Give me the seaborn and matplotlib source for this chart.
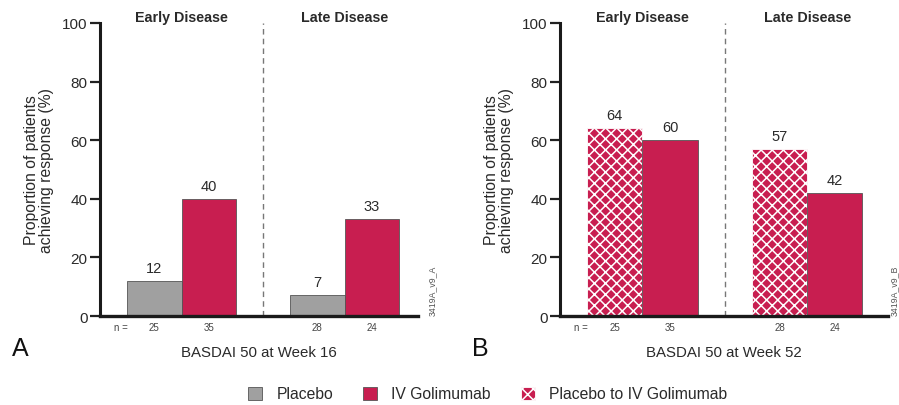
import matplotlib
matplotlib.use("Agg")
import matplotlib.pyplot as plt
from matplotlib.patches import Patch
import seaborn as sns
import pandas as pd

# ---------------- data ----------------
stages = ["Early Disease", "Late Disease"]

arms_a = ["Placebo", "IV Golimumab"]
values_a_placebo = [12, 7]
values_a_iv = [40, 33]
n_a_placebo = [25, 28]
n_a_iv = [35, 24]

arms_b = ["Placebo to IV Golimumab", "IV Golimumab"]
values_b_pbo_iv = [64, 57]
values_b_iv = [60, 42]
n_b_pbo_iv = [25, 28]
n_b_iv = [35, 24]

yticks = [0, 20, 40, 60, 80, 100]
xlabel_a = "BASDAI 50 at Week 16"
xlabel_b = "BASDAI 50 at Week 52"
ylabel = "Proportion of patients\nachieving response (%)"
codes = ["3419A_v9_A", "3419A_v9_B"]
panel_letters = ["A", "B"]

colors = {"Placebo": "#a0a0a0", "IV Golimumab": "#c81e50",
          "Placebo to IV Golimumab": "#c81e50"}

df_a = pd.DataFrame({
    "stage": stages * 2,
    "arm": [arms_a[0]] * 2 + [arms_a[1]] * 2,
    "value": values_a_placebo + values_a_iv,
    "n": n_a_placebo + n_a_iv,
})
df_b = pd.DataFrame({
    "stage": stages * 2,
    "arm": [arms_b[0]] * 2 + [arms_b[1]] * 2,
    "value": values_b_pbo_iv + values_b_iv,
    "n": n_b_pbo_iv + n_b_iv,
})

# ---------------- style ----------------
sns.set_style("white")
plt.rcParams["font.family"] = ["Liberation Sans", "DejaVu Sans"]
plt.rcParams["hatch.linewidth"] = 1.1
TXT = "#2a2a2a"
HATCH = "xxx"

fig = plt.figure(figsize=(8.99, 4.06), dpi=100)
ax_a = fig.add_axes([0.1112, 0.2192, 0.3537, 0.7217])
ax_b = fig.add_axes([0.6229, 0.2192, 0.3649, 0.7217])

BW = 0.67


def draw(ax, df, arms, xlabel, code, xright, code_x):
    sns.barplot(data=df, x="stage", y="value", hue="arm", order=stages,
                hue_order=arms, palette=colors, width=BW, saturation=1,
                errorbar=None, legend=False, ax=ax, zorder=3)
    for cont, arm in zip(ax.containers, arms):
        for bar in cont:
            if arm == "Placebo to IV Golimumab":
                bar.set_hatch(HATCH)
                bar.set_edgecolor("white")
                bar.set_linewidth(0.6)
            else:
                bar.set_edgecolor("#555555")
                bar.set_linewidth(0.6)
    ax.set_ylim(0, 100)
    ax.set_xlim(-0.5, xright)
    ax.set_yticks(yticks)
    ax.set_yticklabels([str(t) for t in yticks], fontsize=11, color=TXT)
    ax.tick_params(axis="y", direction="out", length=7, width=1.6,
                   color="#222222", pad=2, left=True)
    centers, nlabels = [], []
    for cont, arm in zip(ax.containers, arms):
        sub = df[df["arm"] == arm].set_index("stage").loc[stages]
        for bar, val, n in zip(cont, sub["value"], sub["n"]):
            cx = bar.get_x() + bar.get_width() / 2
            centers.append(cx)
            nlabels.append(str(n))
            ax.text(cx, val + 4.5, str(val), ha="center", va="center",
                    fontsize=10.5, color=TXT)
    ax.set_xticks(centers)
    ax.set_xticklabels(nlabels, fontsize=7, color="#444444")
    ax.tick_params(axis="x", length=0, pad=4)
    ax.text(-0.37, -3.6, "n =", ha="center", va="center", fontsize=7,
            color="#444444", clip_on=False)
    ax.set_xlabel(xlabel, fontsize=10.8, color=TXT, labelpad=10)
    ax.set_ylabel(ylabel, fontsize=11.3, color=TXT, labelpad=6,
                  linespacing=1.0)
    for s in ["top", "right"]:
        ax.spines[s].set_visible(False)
    ax.spines["left"].set_linewidth(2.2)
    ax.spines["left"].set_color("#1a1a1a")
    ax.spines["bottom"].set_linewidth(2.4)
    ax.spines["bottom"].set_color("#1a1a1a")
    ax.spines["left"].set_zorder(5)
    ax.spines["bottom"].set_zorder(5)
    ax.axvline(0.5, ymin=0, ymax=1, color="#777777", lw=1.0,
               linestyle=(0, (4, 3)), zorder=1)
    for i, st in enumerate(stages):
        ax.text(i, 102, st, ha="center", va="center", fontsize=10.3,
                fontweight="bold", color=TXT, clip_on=False)
    ax.text(code_x, 0.005, code, transform=ax.transAxes, rotation=90,
            ha="center", va="bottom", fontsize=6.3, color="#555555",
            clip_on=False)
    return ax


draw(ax_a, df_a, arms_a, xlabel_a, codes[0], 1.45, 1.047)
draw(ax_b, df_b, arms_b, xlabel_b, codes[1], 1.49, 1.02)

fig.text(12 / 899, 1 - 349 / 406, panel_letters[0], fontsize=18,
         color="#111111", ha="left", va="center")
fig.text(472 / 899, 1 - 349 / 406, panel_letters[1], fontsize=18,
         color="#111111", ha="left", va="center")

handles = [Patch(facecolor=colors["Placebo"], edgecolor="#555555", lw=0.6),
           Patch(facecolor=colors["IV Golimumab"], edgecolor="#555555", lw=0.6),
           Patch(facecolor=colors["Placebo to IV Golimumab"], edgecolor="white",
                 hatch=HATCH, lw=0.6)]
fig.legend(handles, ["Placebo", "IV Golimumab", "Placebo to IV Golimumab"],
           loc="center", bbox_to_anchor=(487.5 / 899, 1 - 395 / 406), ncol=3,
           frameon=False, fontsize=11.3, handlelength=0.9, handleheight=0.9,
           handletextpad=0.9, columnspacing=1.9, labelcolor=TXT)

fig.savefig("out.png", dpi=100)
